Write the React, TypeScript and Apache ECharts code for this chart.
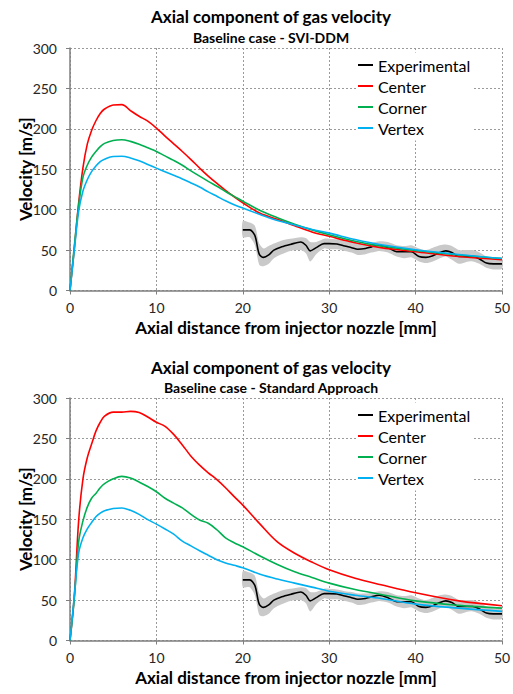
import React, { useEffect, useRef } from "react";
import * as echarts from "echarts";

// Shared axial positions (mm) for the model curves
const modelX = [0, 0.5, 1, 1.5, 2, 2.5, 3, 3.5, 4, 5, 6, 7, 8, 9, 10, 11, 12, 13, 14, 15, 16, 17, 18, 19, 20, 22, 24, 26, 28, 30, 33, 36, 40, 45, 50];

// SVI-DDM (top chart)
const sviCenter = [0, 52, 108, 152, 181, 198, 210, 219, 224.5, 229.5, 230, 222.5, 215.5, 209.5, 201, 191, 181.5, 172, 162, 151.5, 141.5, 132.5, 124, 116, 108.5, 95.5, 88, 80, 72.5, 67, 59, 53, 48, 42, 38];
const sviCorner = [0, 55, 105, 140, 155, 165, 172, 178, 182, 185.6, 186.5, 184.5, 181, 176.5, 172, 166.5, 161, 155, 148, 141.5, 135, 129, 122.5, 116.5, 110.5, 99, 90, 82, 75, 69, 61, 55, 49.5, 44, 39.5];
const sviVertex = [0, 50, 98, 123, 137, 147, 154, 159.5, 162.5, 165.8, 166, 164, 160.5, 156, 151.4, 147, 142.5, 138, 133, 128, 122, 116.5, 111, 106, 102, 94, 86.5, 81, 75.5, 71, 63, 56.5, 50.5, 44.5, 39.5];

// Standard Approach (bottom chart)
const stdCenter = [0, 55, 148, 200, 226, 243, 259, 270, 277.5, 282.5, 282.5, 283.5, 282, 276.5, 270, 265, 255, 242, 228, 217, 207.5, 199, 189, 178, 167.5, 144, 122, 108, 97, 87.5, 77, 69, 59, 49, 43];
const stdCorner = [0, 52, 122, 148, 165, 176, 182, 189, 194, 200, 203, 201, 196, 190.5, 184, 176, 170, 164, 156, 149, 145, 137, 127, 121, 116, 104.5, 94, 85, 78, 71, 63, 57, 49, 43.5, 40];
const stdVertex = [0, 55, 108, 127, 138, 146, 153, 157.6, 160.5, 163.3, 164, 161, 156, 149.5, 144, 138, 131.5, 123, 117, 111, 105.5, 100, 96, 93, 90, 82, 76, 71, 66, 61, 56, 52, 45, 40, 36];

// Experimental data with uncertainty band (same in both charts)
const expX = [20, 20.8, 21.4, 21.9, 22.4, 23, 23.6, 24.5, 25.5, 26.7, 27.3, 27.8, 28.5, 29.4, 30, 30.9, 31.8, 32.6, 33.3, 34.2, 34.9, 35.8, 36.8, 37.8, 38.7, 39.5, 40.4, 41.2, 42, 42.8, 43.5, 44.2, 45, 45.8, 46.6, 47.4, 48.2, 49, 50];
const expY = [75, 75, 68, 45, 41, 44, 50, 54, 57, 60, 56, 49, 53, 58, 58, 57.5, 55, 53, 51, 52, 54, 56, 53, 48, 48, 48, 42, 41, 43, 47, 49, 47, 42, 42, 42, 39, 34, 33, 33];
const expLow = [66, 66, 56, 32, 30, 33, 40, 45, 49, 50, 46, 36, 45, 52, 51, 51, 49, 47, 44, 45, 47, 49, 47, 42, 40, 41, 36, 34, 36, 40, 42, 38, 33, 35, 36, 33, 28, 26, 27];
const expHigh = [86, 84, 80, 58, 52, 55, 58, 62, 64, 66, 65, 60, 60, 64, 64, 63, 61, 60, 58, 58, 59, 61, 60, 56, 55, 56, 52, 50, 53, 56, 57, 55, 50, 50, 50, 47, 42, 40, 40];

const titles = ["Axial component of gas velocity", "Axial component of gas velocity"];
const subtitles = ["Baseline case - SVI-DDM", "Baseline case - Standard Approach"];
const legendNames = ["Experimental", "Center", "Corner", "Vertex"];
const colors: Record<string, string> = { Experimental: "#000000", Center: "#ff0000", Corner: "#00b050", Vertex: "#00b0f0" };

const FONT = "Lato, 'Noto Sans', sans-serif";

export default function App() {
  const ref = useRef<HTMLDivElement>(null);
  useEffect(() => {
    if (!ref.current) return;
    const chart = echarts.init(ref.current, undefined, { renderer: "svg" });
    const gridTops = [48, 398];
    const modelSets = [
      { Center: sviCenter, Corner: sviCorner, Vertex: sviVertex },
      { Center: stdCenter, Corner: stdCorner, Vertex: stdVertex },
    ];
    const grids: any[] = [];
    const xAxes: any[] = [];
    const yAxes: any[] = [];
    const series: any[] = [];
    const legends: any[] = [];
    const graphics: any[] = [];
    gridTops.forEach((top, i) => {
      grids.push({ left: 70, top, width: 432, height: 242.5, containLabel: false, outerBoundsMode: "none" });
      const axisLine = { show: true, lineStyle: { color: "#7f7f7f", width: 1.5 } };
      const splitLine = { show: true, lineStyle: { color: "#9a9a9a", type: [2, 2], width: 1 } };
      xAxes.push({
        type: "value", gridIndex: i, min: 0, max: 50, interval: 10,
        axisLine, axisTick: { show: true, length: 4, lineStyle: { color: "#7f7f7f" } },
        splitLine,
        axisLabel: { fontSize: 14, color: "#262626", fontFamily: FONT, margin: 10 },
        name: "Axial distance from injector nozzle [mm]", nameLocation: "middle", nameGap: 28,
        nameMoveOverlap: false,
        nameTextStyle: { fontSize: 17, fontWeight: "bold", color: "#000", fontFamily: FONT },
      });
      yAxes.push({
        type: "value", gridIndex: i, min: 0, max: 300, interval: 50,
        axisLine, axisTick: { show: true, length: 4, lineStyle: { color: "#7f7f7f" } },
        splitLine,
        axisLabel: { fontSize: 14, color: "#262626", fontFamily: FONT, margin: 13 },
        name: "Velocity [m/s]", nameLocation: "middle", nameGap: 36,
        nameMoveOverlap: false,
        nameTextStyle: { fontSize: 17, fontWeight: "bold", color: "#000", fontFamily: FONT },
      });
      // uncertainty band of the experimental data, drawn as a smoothed polygon through the axis scales
      series.push({
        type: "custom", name: "band-" + i, xAxisIndex: i, yAxisIndex: i, silent: true,
        data: expX.map((x, k) => [x, expLow[k], expHigh[k]]),
        encode: { x: 0, y: [1, 2] },
        renderItem: (params: any, api: any) => {
          if (params.dataIndex !== 0) return null;
          const upper = expX.map((x, k) => api.coord([x, expHigh[k]]));
          const lower = expX.map((x, k) => api.coord([x, expLow[k]])).reverse();
          return {
            type: "polygon",
            shape: { points: upper.concat(lower), smooth: 0.25 },
            style: { fill: "#c9c9c9", stroke: "none" },
          };
        },
        z: 1,
      });
      series.push({
        type: "line", name: "Experimental", xAxisIndex: i, yAxisIndex: i,
        data: expX.map((x, k) => [x, expY[k]]), symbol: "none", smooth: 0.3,
        itemStyle: { color: colors.Experimental },
        lineStyle: { color: colors.Experimental, width: 1.6 }, z: 2,
      });
      ["Center", "Corner", "Vertex"].forEach((nm) => {
        const ys = (modelSets[i] as any)[nm] as number[];
        series.push({
          type: "line", name: nm, xAxisIndex: i, yAxisIndex: i,
          data: modelX.map((x, k) => [x, ys[k]]), symbol: "none", smooth: 0.35,
          itemStyle: { color: colors[nm] },
          lineStyle: { color: colors[nm], width: 1.6 }, z: 3,
        });
      });
      legends.push({
        data: legendNames, orient: "vertical", left: 358, top: top + 4.5,
        itemWidth: 15, itemHeight: 2, itemGap: 0, icon: "rect",
        itemStyle: { borderWidth: 0 },
        backgroundColor: "#ffffff", padding: [2, 3, 2, 0],
        textStyle: { fontSize: 16, fontFamily: FONT, color: "#000", lineHeight: 21 },
      });
      const titleY = i === 0 ? 16.5 : 367;
      const subY = i === 0 ? 37 : 387;
      graphics.push({
        type: "text", x: 271, y: titleY,
        style: { text: titles[i], font: `bold 17px ${FONT}`, fill: "#000", textAlign: "center", textVerticalAlign: "middle" },
      });
      graphics.push({
        type: "text", x: 271, y: subY,
        style: { text: subtitles[i], font: `bold 14px ${FONT}`, fill: "#000", textAlign: "center", textVerticalAlign: "middle" },
      });
    });
    chart.setOption({
      animation: false,
      grid: grids, xAxis: xAxes, yAxis: yAxes, series, legend: legends, graphic: graphics,
    });
    return () => chart.dispose();
  }, []);
  return <div ref={ref} style={{ position: "fixed", left: 0, top: 0, width: 513, height: 694, background: "#fff" }} />;
}
